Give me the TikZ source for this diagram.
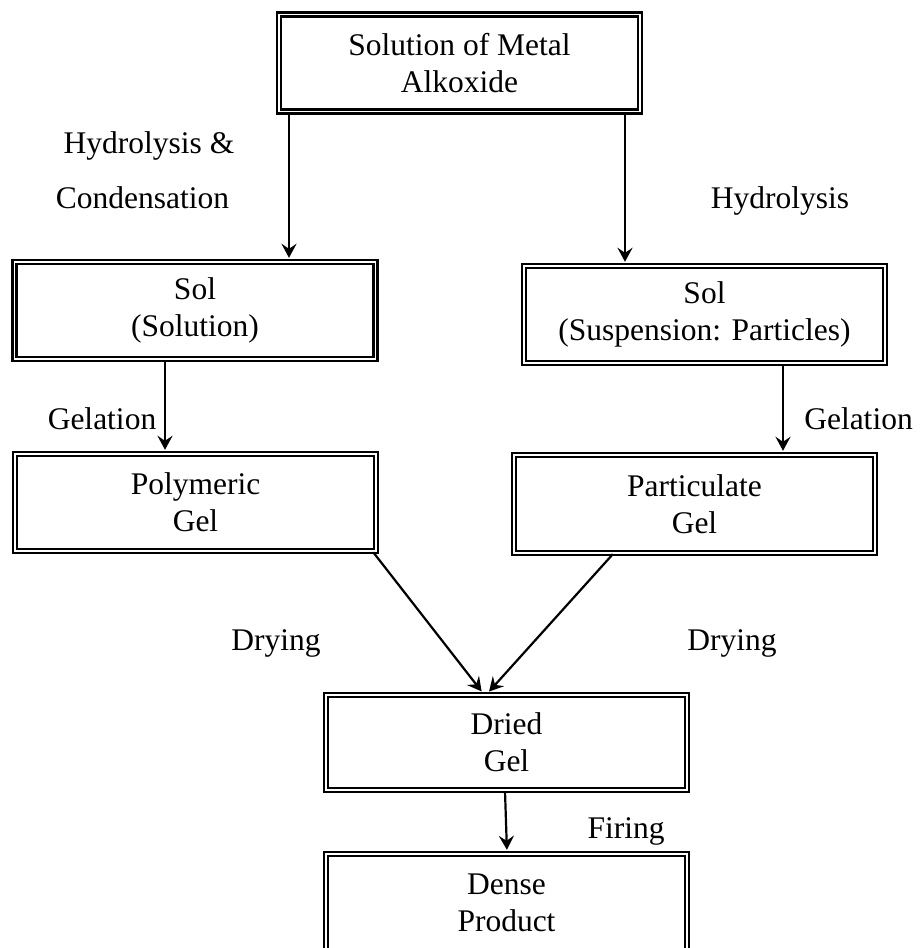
\documentclass[tikz,border=0pt]{standalone}
\usepackage{fontspec}
\setmainfont{Liberation Serif}
\usetikzlibrary{arrows.meta,calc}
\begin{document}
\begin{tikzpicture}[x=1pt,y=-1pt,
  dbox/.style={draw, line width=2.4pt, double, double distance=1.6pt,
    minimum width=361pt, minimum height=97pt, inner sep=0pt, align=center,
    font=\fontsize{31.5}{37}\selectfont},
  lbl/.style={anchor=base, inner sep=0pt, font=\fontsize{31.5}{37}\selectfont},
  arr/.style={line width=2.2pt, -{Stealth[length=14pt,width=15pt,inset=5pt]}, shorten >=3pt}
]
\useasboundingbox (0,0) rectangle (919,948);
\node[dbox] (top)   at (459.5,63)   {Solution of Metal\\Alkoxide};
\node[dbox] (lsol)  at (195,310.5)  {Sol\\(Solution)};
\node[dbox] (rsol)  at (704.5,314.5){Sol\\(Suspension: Particles)};
\node[dbox] (poly)  at (195.5,502.5){Polymeric\\Gel};
\node[dbox, minimum height=98pt] (part) at (694.5,504) {Particulate\\Gel};
\node[dbox, minimum height=95pt] (dried) at (506.5,742.5) {Dried\\Gel};
\node[dbox] (dense) at (506.5,902.5){Dense\\Product};

\coordinate (xa) at (289,0);
\coordinate (xb) at (625,0);
\coordinate (xc) at (165,0);
\coordinate (xd) at (783,0);

\draw[arr] (top.south -| xa) -- (lsol.north -| xa);
\draw[arr] (top.south -| xb) -- (rsol.north -| xb);
\draw[arr] (lsol.south -| xc) -- (poly.north -| xc);
\draw[arr] (rsol.south -| xd) -- (part.north -| xd);
\draw[arr] ($(poly.south east)+(-4,0)$) -- ($(dried.north)+(-23,0)$);
\draw[arr] ($(part.south west)+(100,0)$) -- ($(dried.north)+(-19.5,0)$);
\draw[arr] ($(dried.south)+(-1.5,0)$) -- ($(dense.north)+(0.5,0)$);

\node[lbl] (l1) at (149,153) {Hydrolysis \&};
\node[lbl] (l2) at (142.5,208) {Condensation};
\node[lbl] (l3) at (780,208) {Hydrolysis};
\node[lbl] (l4) at (102,429) {Gelation};
\node[lbl] (l5) at (858.5,429) {Gelation};
\node[lbl] (l6) at (276,650) {Drying};
\node[lbl] (l7) at (732,650) {Drying};
\node[lbl] (l8) at (626,838) {Firing};
\end{tikzpicture}
\end{document}
